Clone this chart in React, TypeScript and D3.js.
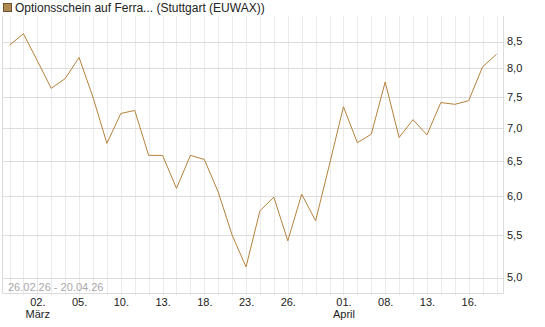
import React from "react";
import * as d3 from "d3";

const dates = [
  "26.02", "27.02", "02.03", "03.03", "04.03", "05.03", "06.03", "09.03", "10.03", "11.03",
  "12.03", "13.03", "16.03", "17.03", "18.03", "19.03", "20.03", "23.03", "24.03", "25.03",
  "26.03", "27.03", "30.03", "31.03", "01.04", "02.04", "07.04", "08.04", "09.04", "10.04",
  "13.04", "14.04", "15.04", "16.04", "17.04", "20.04",
];
const values = [
  8.43, 8.65, 8.14, 7.65, 7.82, 8.2, 7.5, 6.76, 7.23, 7.28,
  6.58, 6.58, 6.11, 6.58, 6.52, 6.06, 5.5, 5.12, 5.81, 5.99,
  5.43, 6.03, 5.68, 6.45, 7.34, 6.77, 6.9, 7.76, 6.85, 7.13,
  6.89, 7.41, 7.38, 7.44, 8.03, 8.26,
];
const yTicks = [5.0, 5.5, 6.0, 6.5, 7.0, 7.5, 8.0, 8.5];
const xTickLabels = [
  { i: 2, label: "02." }, { i: 5, label: "05." }, { i: 8, label: "10." }, { i: 11, label: "13." },
  { i: 14, label: "18." }, { i: 17, label: "23." }, { i: 20, label: "26." }, { i: 24, label: "01." },
  { i: 27, label: "08." }, { i: 30, label: "13." }, { i: 33, label: "16." },
];
const monthLabels = [{ i: 2, label: "März" }, { i: 24, label: "April" }];
const legendLabel = "Optionsschein auf Ferra... (Stuttgart (EUWAX))";
const rangeLabel = "26.02.26 - 20.04.26";

export default function App() {
  const W = 545, H = 327;
  const left = 2.5, right = 503.5, top = 16, bottom = 293.5;
  const x = d3.scaleLinear().domain([0, dates.length - 1]).range([9.5, 496.5]);
  const y = d3.scaleLog().domain([5, 8.5]).range([277.5, 41.5]);
  const line = d3.line<number>().x((_, i) => x(i)).y((d) => y(d));
  const font = "Liberation Sans, Arial, sans-serif";
  return (
    <svg width={W} height={H} style={{ position: "absolute", left: 0, top: 0, background: "#fff" }} fontFamily={font}>
      {dates.map((d, i) => (
        <line key={"v" + d} x1={Math.round(x(i)) + 0.5} x2={Math.round(x(i)) + 0.5} y1={top} y2={bottom + 2} stroke="#ebebeb" strokeWidth={1} />
      ))}
      {yTicks.map((t) => (
        <line key={"h" + t} x1={left} x2={right} y1={Math.round(y(t)) + 0.5} y2={Math.round(y(t)) + 0.5} stroke="#dcdcdc" strokeWidth={1} />
      ))}
      <line x1={left} x2={left} y1={top} y2={bottom} stroke="#dcdcdc" />
      <line x1={right} x2={right} y1={top} y2={bottom} stroke="#dcdcdc" />
      <line x1={left} x2={right} y1={bottom} y2={bottom} stroke="#dcdcdc" />
      <text x={8} y={290.5} fontSize={11} fill="#a8a8a8">{rangeLabel}</text>
      <path d={line(values) || ""} fill="none" stroke="#b5823c" strokeWidth={1} />
      {yTicks.map((t) => (
        <text key={"yl" + t} x={507} y={y(t)} dy="0.35em" fontSize={11} fill="#222">
          {d3.format(".1f")(t).replace(".", ",")}
        </text>
      ))}
      {xTickLabels.map((t) => (
        <text key={"xl" + t.i} x={x(t.i) + 0.5} y={305.5} textAnchor="middle" fontSize={11} fill="#222">{t.label}</text>
      ))}
      {monthLabels.map((t) => (
        <text key={"ml" + t.i} x={x(t.i) + 0.5} y={317.5} textAnchor="middle" fontSize={11} fill="#222">{t.label}</text>
      ))}
      <rect x={3.5} y={3.5} width={8} height={8} fill="#b08a52" stroke="#6b5330" strokeWidth={1} />
      <text x={15} y={11.5} fontSize={12} fill="#222">{legendLabel}</text>
    </svg>
  );
}
